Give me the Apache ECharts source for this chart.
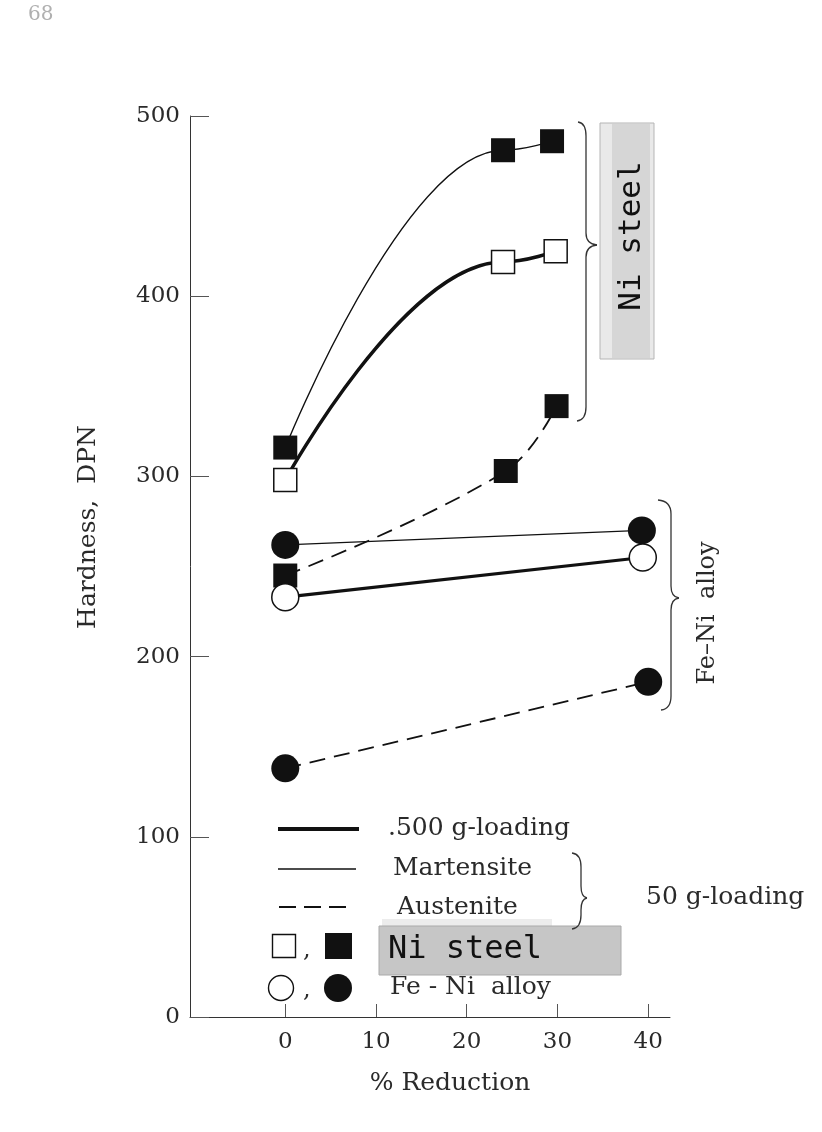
<!DOCTYPE html>
<html>
<head>
<meta charset="utf-8">
<script src="https://cdn.jsdelivr.net/npm/echarts@6/dist/echarts.min.js"></script>
<style>
html,body{margin:0;padding:0;background:#fff;}
#chart{width:822px;height:1132px;}
</style>
</head>
<body>
<div id="chart"></div>
<script>
// ---- data ----
const xTickValues = [0, 10, 20, 30, 40];

const niSteel500X = [0, 24, 29.8];
const niSteel500Y = [298, 419, 425];
const niSteelMartX = [0, 24, 29.4];
const niSteelMartY = [316, 481, 486];
const niSteelAustX = [0, 24.3, 29.9];
const niSteelAustY = [245, 303, 339];

const feNiMartX = [0, 39.3];
const feNiMartY = [262, 270];
const feNi500X = [0, 39.4];
const feNi500Y = [233, 255];
const feNiAustX = [0, 40];
const feNiAustY = [138, 186];

const xName = '% Reduction';
const yName = 'Hardness,  DPN';

function pairs(xs, ys) { return xs.map((x, i) => [x, ys[i]]); }

const SERIF = '"DejaVu Serif", "Liberation Serif", serif';
const MONO = '"DejaVu Sans Mono", "Liberation Mono", monospace';
const INK = '#111';
const TXT = '#2a2a2a';

// brace "}" drawn from simple graphic pieces
function brace(xTop, yTop, xBot, yBot, xStem, xTip, yTip) {
  const st = {fill: 'none', stroke: '#333', lineWidth: 1.3};
  const r = 12;
  return [
    {type: 'bezierCurve', shape: {x1: xTop, y1: yTop, cpx1: xStem, cpy1: yTop + 1, x2: xStem, y2: yTop + r + 2}, style: st},
    {type: 'line', shape: {x1: xStem, y1: yTop + r + 2, x2: xStem, y2: yTip - r}, style: st},
    {type: 'bezierCurve', shape: {x1: xStem, y1: yTip - r, cpx1: xStem, cpy1: yTip - 1, x2: xTip, y2: yTip}, style: st},
    {type: 'bezierCurve', shape: {x1: xTip, y1: yTip, cpx1: xStem, cpy1: yTip + 1, x2: xStem, y2: yTip + r}, style: st},
    {type: 'line', shape: {x1: xStem, y1: yTip + r, x2: xStem, y2: yBot - r - 2}, style: st},
    {type: 'bezierCurve', shape: {x1: xStem, y1: yBot - r - 2, cpx1: xStem, cpy1: yBot - 1, x2: xBot, y2: yBot}, style: st}
  ];
}

const chart = echarts.init(document.getElementById('chart'), null, {renderer: 'canvas'});

function lineSeries(name, data, opts) {
  return Object.assign({
    name: name,
    type: 'line',
    data: data,
    animation: false,
    emphasis: {disabled: true},
    showSymbol: true,
    z: 3
  }, opts);
}

const graphics = [
  {type: 'text', x: 28, y: 5, style: {text: '68', fontFamily: SERIF, fontSize: 20, fill: '#b0b0b0'}},
  {type: 'text', x: 88, y: 527, rotation: Math.PI / 2,
    style: {text: yName, fontFamily: SERIF, fontSize: 25, fill: TXT, align: 'center', verticalAlign: 'middle'}},
  {type: 'text', x: 450, y: 1083,
    style: {text: xName, fontFamily: SERIF, fontSize: 25, fill: TXT, align: 'center', verticalAlign: 'middle'}},
  // Ni steel vertical tape label
  {type: 'rect', shape: {x: 600, y: 123, width: 54, height: 236}, style: {fill: '#e9e9e9', stroke: '#b5b5b5', lineWidth: 1}},
  {type: 'rect', shape: {x: 612, y: 124, width: 38, height: 234}, style: {fill: '#d6d6d6'}},
  {type: 'text', x: 632, y: 236, rotation: Math.PI / 2,
    style: {text: 'Ni steel', fontFamily: MONO, fontSize: 31, fill: '#111', align: 'center', verticalAlign: 'middle'}},
  {type: 'text', x: 708, y: 613, rotation: Math.PI / 2,
    style: {text: 'Fe–Ni  alloy', fontFamily: SERIF, fontSize: 24, fill: TXT, align: 'center', verticalAlign: 'middle'}},
  // legend line samples
  {type: 'line', shape: {x1: 278, y1: 829, x2: 359, y2: 829}, style: {stroke: INK, lineWidth: 4}},
  {type: 'line', shape: {x1: 278, y1: 869, x2: 356, y2: 869}, style: {stroke: INK, lineWidth: 1.5}},
  {type: 'line', shape: {x1: 279, y1: 907, x2: 353, y2: 907}, style: {stroke: INK, lineWidth: 1.8, lineDash: [17, 8]}},
  // legend texts
  {type: 'text', x: 388, y: 828, style: {text: '.500 g-loading', fontFamily: SERIF, fontSize: 25, fill: TXT, verticalAlign: 'middle'}},
  {type: 'text', x: 393, y: 868, style: {text: 'Martensite', fontFamily: SERIF, fontSize: 25, fill: TXT, verticalAlign: 'middle'}},
  {type: 'text', x: 397, y: 907, style: {text: 'Austenite', fontFamily: SERIF, fontSize: 25, fill: TXT, verticalAlign: 'middle'}},
  {type: 'text', x: 390, y: 987, style: {text: 'Fe - Ni  alloy', fontFamily: SERIF, fontSize: 25, fill: TXT, verticalAlign: 'middle'}},
  {type: 'text', x: 646, y: 897, style: {text: '50 g-loading', fontFamily: SERIF, fontSize: 25, fill: TXT, verticalAlign: 'middle'}},
  // legend Ni steel tape label
  {type: 'rect', shape: {x: 382, y: 919, width: 170, height: 8}, style: {fill: '#ececec'}},
  {type: 'rect', shape: {x: 379, y: 926, width: 242, height: 49}, style: {fill: '#c6c6c6', stroke: '#aaaaaa', lineWidth: 1}},
  {type: 'text', x: 388, y: 950, style: {text: 'Ni steel', fontFamily: MONO, fontSize: 32, fill: '#111', verticalAlign: 'middle'}},
  // legend symbols
  {type: 'rect', shape: {x: 272.5, y: 934.5, width: 23, height: 23}, style: {fill: '#fff', stroke: INK, lineWidth: 1.4}},
  {type: 'text', x: 303, y: 951, style: {text: ',', fontFamily: SERIF, fontSize: 24, fill: TXT, verticalAlign: 'middle'}},
  {type: 'rect', shape: {x: 325, y: 933, width: 27, height: 26}, style: {fill: INK}},
  {type: 'circle', shape: {cx: 281, cy: 988, r: 12.5}, style: {fill: '#fff', stroke: INK, lineWidth: 1.4}},
  {type: 'text', x: 303, y: 991, style: {text: ',', fontFamily: SERIF, fontSize: 24, fill: TXT, verticalAlign: 'middle'}},
  {type: 'circle', shape: {cx: 338, cy: 988, r: 14}, style: {fill: INK}}
].concat(
  brace(578, 122, 577, 421, 586, 597, 245),
  brace(658, 500, 661, 710, 671, 679, 598),
  brace(572, 853, 572, 929, 581, 587, 898)
);

const option = {
  backgroundColor: '#ffffff',
  animation: false,
  grid: {left: 190, right: 152, top: 116, bottom: 115, containLabel: false},
  xAxis: {
    type: 'value',
    min: -10.5,
    max: 42.4,
    axisLine: {show: true, onZero: false, lineStyle: {color: '#333', width: 1}},
    axisTick: {show: true, inside: true, length: 13, customValues: xTickValues, lineStyle: {color: '#555', width: 1}},
    axisLabel: {show: true, customValues: xTickValues, margin: 14, fontFamily: SERIF, fontSize: 23, color: TXT},
    splitLine: {show: false}
  },
  yAxis: {
    type: 'value',
    min: 0,
    max: 500,
    interval: 100,
    axisLine: {show: true, onZero: false, lineStyle: {color: '#333', width: 1}},
    axisTick: {show: true, inside: true, length: 19, lineStyle: {color: '#555', width: 1}},
    axisLabel: {show: true, margin: 10, fontFamily: SERIF, fontSize: 23, color: TXT},
    splitLine: {show: false}
  },
  series: [
    lineSeries('Ni steel 500 g', pairs(niSteel500X, niSteel500Y), {
      smooth: 0.45, smoothMonotone: 'x',
      lineStyle: {color: INK, width: 3.5},
      symbol: 'rect', symbolSize: 23,
      itemStyle: {color: '#fff', borderColor: INK, borderWidth: 1.5}
    }),
    lineSeries('Ni steel Martensite', pairs(niSteelMartX, niSteelMartY), {
      smooth: 0.45, smoothMonotone: 'x',
      lineStyle: {color: INK, width: 1.3},
      symbol: 'rect', symbolSize: 24,
      itemStyle: {color: INK, borderColor: INK, borderWidth: 0}
    }),
    lineSeries('Ni steel Austenite', pairs(niSteelAustX, niSteelAustY), {
      smooth: 0.4,
      lineStyle: {color: INK, width: 1.8, type: [16, 9]},
      symbol: 'rect', symbolSize: 24,
      itemStyle: {color: INK, borderColor: INK, borderWidth: 0}
    }),
    lineSeries('Fe-Ni Martensite', pairs(feNiMartX, feNiMartY), {
      lineStyle: {color: INK, width: 1.3},
      symbol: 'circle', symbolSize: 28,
      itemStyle: {color: INK, borderColor: INK, borderWidth: 0}
    }),
    lineSeries('Fe-Ni 500 g', pairs(feNi500X, feNi500Y), {
      lineStyle: {color: INK, width: 3.2},
      symbol: 'circle', symbolSize: 27,
      itemStyle: {color: '#fff', borderColor: INK, borderWidth: 1.5}
    }),
    lineSeries('Fe-Ni Austenite', pairs(feNiAustX, feNiAustY), {
      lineStyle: {color: INK, width: 1.8, type: [16, 9]},
      symbol: 'circle', symbolSize: 28,
      itemStyle: {color: INK, borderColor: INK, borderWidth: 0}
    })
  ],
  graphic: graphics
};

chart.setOption(option);
</script>
</body>
</html>
